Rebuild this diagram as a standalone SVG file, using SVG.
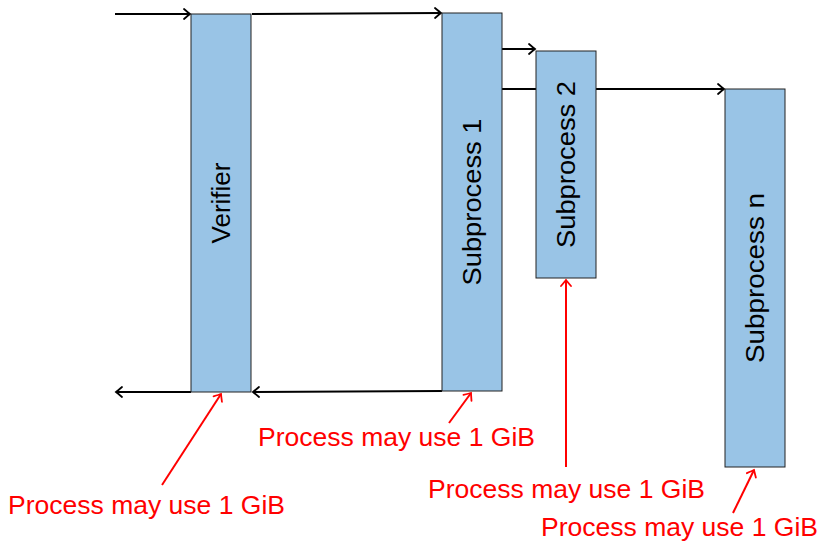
<svg xmlns="http://www.w3.org/2000/svg" width="821" height="541" viewBox="0 0 821 541">
  <style>
    .box { fill: #99c4e6; stroke: #222; stroke-width: 1; }
    .lbl { font-family: "Liberation Sans", "DejaVu Sans", sans-serif; font-size: 26px; fill: #000; text-anchor: middle; }
    .flow { stroke: #000; stroke-width: 2; fill: none; }
    .note { stroke: #ff0000; stroke-width: 2; fill: none; }
    .memo { font-family: "Liberation Sans", "DejaVu Sans", sans-serif; font-size: 26px; fill: #ff0000; }
  </style>
  <defs>
    <marker id="tipK" markerUnits="userSpaceOnUse" markerWidth="14" markerHeight="14" viewBox="-10 -7 12 14" refX="0" refY="0" orient="auto">
      <path d="M -6 -5 Q -1.5 -1.2 0 0 Q -1.5 1.2 -6 5" fill="none" stroke="#000" stroke-width="1.8" stroke-linecap="round"/>
    </marker>
    <marker id="tipR" markerUnits="userSpaceOnUse" markerWidth="14" markerHeight="14" viewBox="-10 -7 12 14" refX="0" refY="0" orient="auto">
      <path d="M -6 -5 Q -1.5 -1.2 0 0 Q -1.5 1.2 -6 5" fill="none" stroke="#ff0000" stroke-width="1.8" stroke-linecap="round"/>
    </marker>
  </defs>

  <g id="connectors">
    <!-- request path -->
    <line class="flow" x1="115" y1="14" x2="190" y2="14" marker-end="url(#tipK)"/>
    <line class="flow" x1="252" y1="14" x2="441" y2="13" marker-end="url(#tipK)"/>
    <line class="flow" x1="502" y1="49" x2="535" y2="49" marker-end="url(#tipK)"/>
    <line class="flow" x1="502" y1="89" x2="536" y2="89"/>
    <line class="flow" x1="596" y1="89" x2="724" y2="89" marker-end="url(#tipK)"/>
    <!-- response path -->
    <line class="flow" x1="442" y1="391" x2="253" y2="392" marker-end="url(#tipK)"/>
    <line class="flow" x1="191" y1="392" x2="116" y2="392" marker-end="url(#tipK)"/>
    <!-- memory notes -->
    <line class="note" x1="162" y1="485" x2="221" y2="394" marker-end="url(#tipR)"/>
    <line class="note" x1="449" y1="423" x2="471" y2="393" marker-end="url(#tipR)"/>
    <line class="note" x1="566" y1="467" x2="566" y2="280" marker-end="url(#tipR)"/>
    <line class="note" x1="733" y1="513" x2="754" y2="470" marker-end="url(#tipR)"/>
  </g>

  <g id="verifier">
    <rect class="box" x="191" y="14" width="60" height="378"/>
    <text class="lbl" transform="translate(221 203) rotate(-90)" dy="0.36em">Verifier</text>
  </g>

  <g id="subprocess-1">
    <rect class="box" x="442" y="13" width="60" height="378"/>
    <text class="lbl" transform="translate(472 202) rotate(-90)" dy="0.36em" textLength="167" lengthAdjust="spacingAndGlyphs">Subprocess 1</text>
  </g>

  <g id="subprocess-2">
    <rect class="box" x="536" y="51" width="60" height="227"/>
    <text class="lbl" transform="translate(566 164.5) rotate(-90)" dy="0.36em" textLength="167" lengthAdjust="spacingAndGlyphs">Subprocess 2</text>
  </g>

  <g id="subprocess-n">
    <rect class="box" x="725" y="89" width="60" height="378"/>
    <text class="lbl" transform="translate(755 278) rotate(-90)" dy="0.36em" textLength="170" lengthAdjust="spacingAndGlyphs">Subprocess n</text>
  </g>

  <g id="memory-notes">
    <text class="memo" x="8" y="514" textLength="277" lengthAdjust="spacingAndGlyphs">Process may use 1 GiB</text>
    <text class="memo" x="258" y="446" textLength="277" lengthAdjust="spacingAndGlyphs">Process may use 1 GiB</text>
    <text class="memo" x="428" y="498" textLength="277" lengthAdjust="spacingAndGlyphs">Process may use 1 GiB</text>
    <text class="memo" x="541" y="536" textLength="277" lengthAdjust="spacingAndGlyphs">Process may use 1 GiB</text>
  </g>
</svg>
